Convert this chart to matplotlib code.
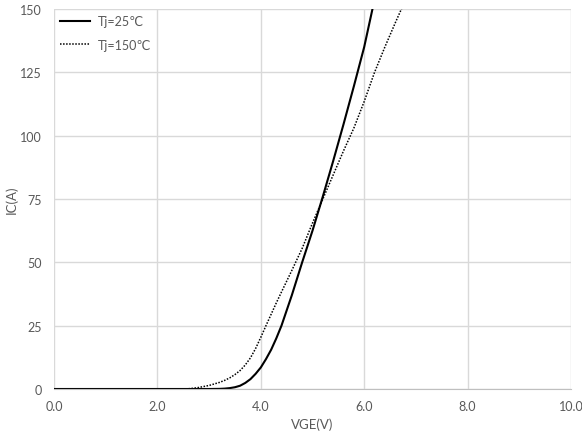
import matplotlib.pyplot as plt

# transfer characteristics, IC vs VGE
vge_25 = [0.0, 3.0, 3.2, 3.3, 3.4, 3.5, 3.6, 3.7, 3.8, 3.9, 4.0, 4.1, 4.2, 4.3, 4.4, 4.6, 4.8, 5.0,
          5.2, 5.4, 5.6, 5.8, 6.0, 6.16, 6.3]
ic_25 = [0.0, 0.0, 0.05, 0.15, 0.35, 0.7, 1.3, 2.4, 3.9, 6.0, 8.5, 11.8, 15.5, 20.0, 25.0, 37.0,
         50.0, 62.5, 76.0, 90.0, 104.5, 119.5, 135.0, 150.0, 163.0]

vge_150 = [0.0, 2.5, 2.6, 2.7, 2.8, 2.9, 3.0, 3.1, 3.2, 3.3, 3.4, 3.5, 3.6, 3.7, 3.8, 3.9, 4.0, 4.1,
           4.2, 4.3, 4.4, 4.6, 4.8, 5.0, 5.2, 5.4, 5.6, 5.8, 6.0, 6.2, 6.4, 6.6, 6.72, 6.9]
ic_150 = [0.0, 0.0, 0.1, 0.3, 0.6, 1.0, 1.4, 2.0, 2.6, 3.4, 4.4, 5.7, 7.3, 9.5, 12.3, 16.0, 20.4,
          25.0, 29.5, 34.0, 38.3, 46.8, 55.5, 65.5, 75.0, 84.5, 94.0, 103.0, 113.5, 125.0, 135.0,
          144.5, 150.0, 158.0]

x_ticks = [0, 2, 4, 6, 8, 10]
y_ticks = [0, 25, 50, 75, 100, 125, 150]

plt.rcParams['font.family'] = ['Lato', 'DejaVu Sans']

fig = plt.figure(figsize=(5.82, 4.39), dpi=100)
ax = fig.add_axes([54 / 582, 1 - 390 / 439, 517 / 582, 380 / 439])

ax.plot(vge_25, ic_25, color='black', lw=1.5, label='Tj=25\u2103')
ax.plot(vge_150, ic_150, color='black', lw=1.1, ls=(0, (1, 1)), label='Tj=150\u2103')

ax.set_xlim(0, 10)
ax.set_ylim(0, 150)
ax.set_xticks(x_ticks)
ax.set_xticklabels(['%.1f' % v for v in x_ticks])
ax.set_yticks(y_ticks)

ax.grid(True, color='#d9d9d9', lw=1)
ax.set_axisbelow(True)
for s in ['top', 'right', 'left']:
    ax.spines[s].set_visible(False)
ax.spines['bottom'].set_color('#bfbfbf')
ax.tick_params(length=0, labelsize=9, colors='#595959', pad=8)
ax.tick_params(axis='y', pad=9)

ax.set_xlabel('VGE(V)', fontsize=9.5, color='#595959', labelpad=4)
ax.set_ylabel('IC(A)', fontsize=9.5, color='#595959')
ax.yaxis.set_label_coords(-36 / 517, 0.5)

leg = ax.legend(loc='upper left', frameon=False, fontsize=9, handlelength=2.4,
                borderaxespad=0.1, labelspacing=0.9, handletextpad=0.6)
for t in leg.get_texts():
    t.set_color('#595959')

fig.savefig('out.png', dpi=100)
